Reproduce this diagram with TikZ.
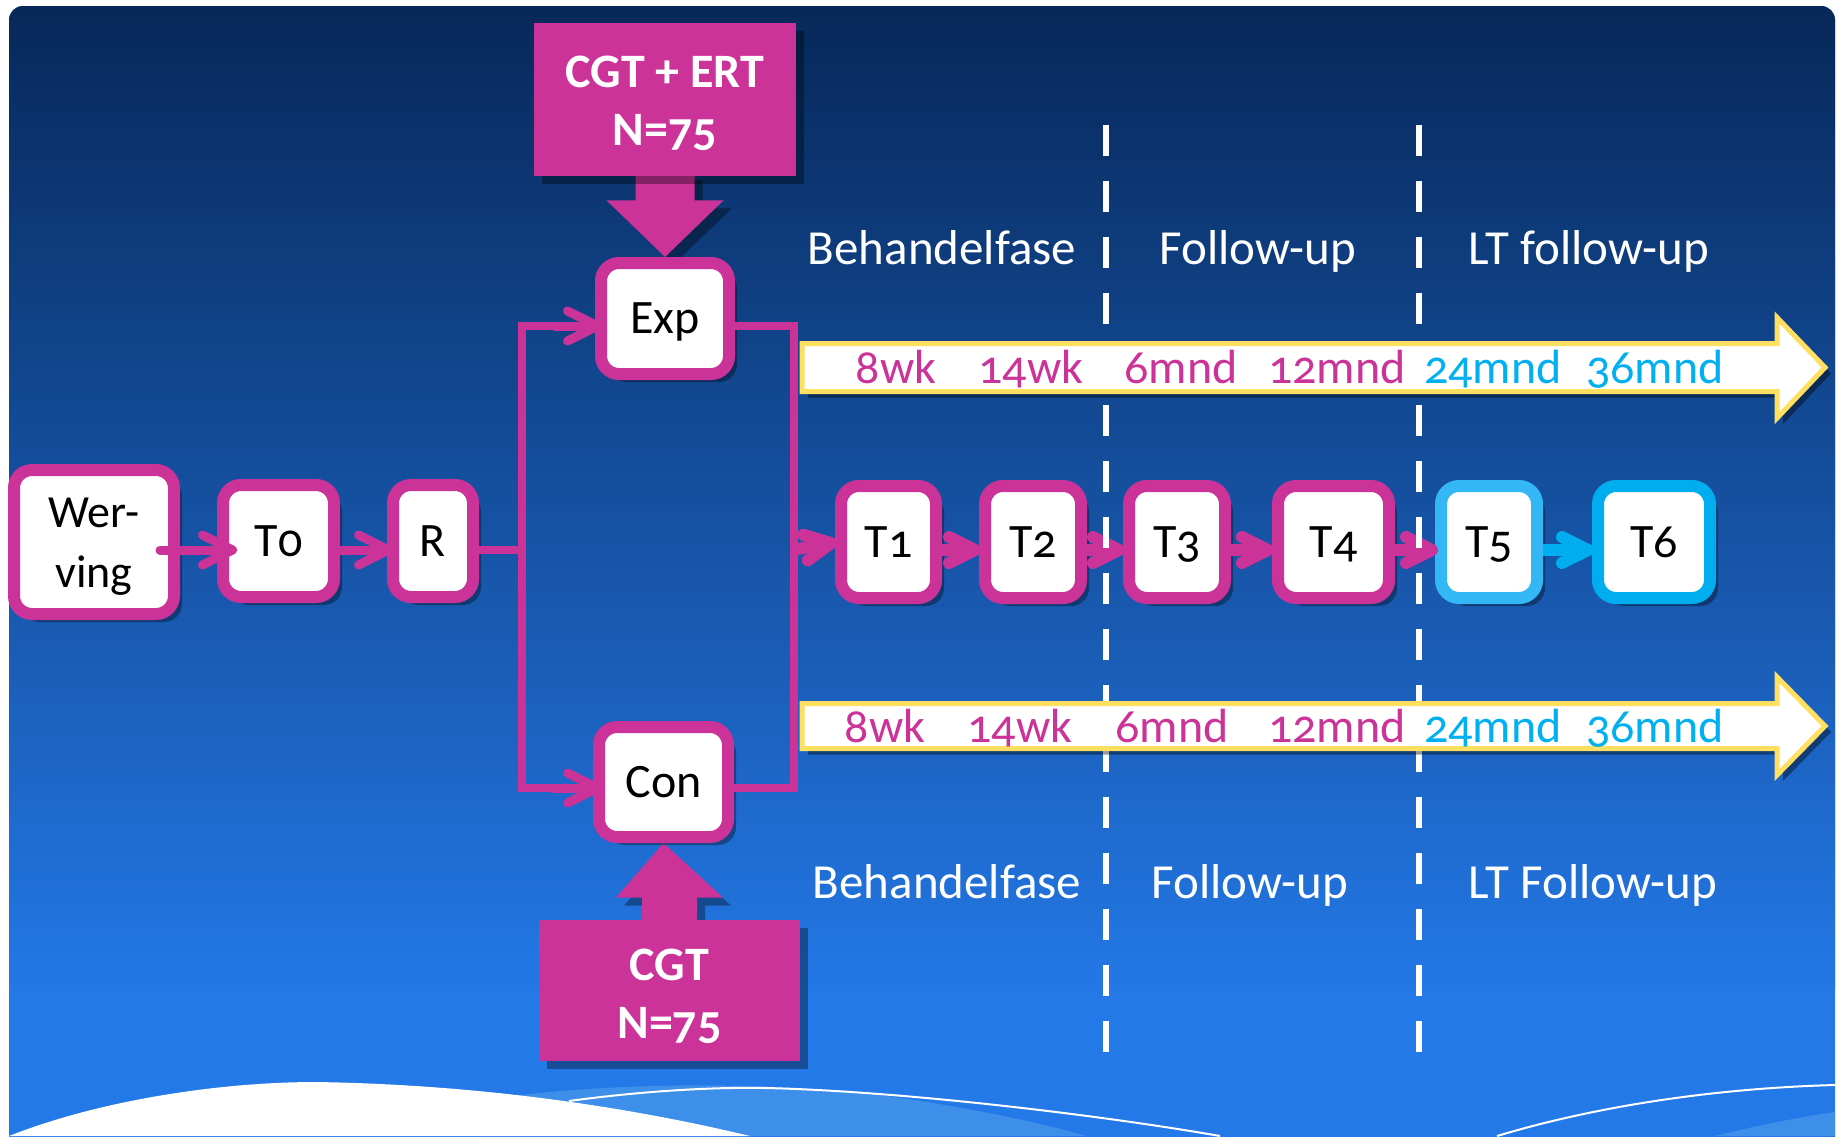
\documentclass[tikz,border=0pt]{standalone}
\usepackage{fontspec}
\setmainfont{Carlito}[Numbers=OldStyle]
\usetikzlibrary{arrows.meta,calc,shadows}
\pgfdeclarelayer{back}
\pgfdeclarelayer{mid}
\pgfsetlayers{back,mid,main}
\definecolor{mag}{HTML}{CC3399}
\definecolor{cyanA}{HTML}{33B8F5}
\definecolor{cyanB}{HTML}{00AEEF}
\definecolor{cyantxt}{HTML}{00B0F0}
\definecolor{yel}{HTML}{FFDF60}
\definecolor{bgtop}{HTML}{072859}
\definecolor{bgmid}{HTML}{184E9D}
\definecolor{bgbot}{HTML}{2479E8}
\definecolor{wave}{HTML}{3D8FE9}
\begin{document}
\begin{tikzpicture}[x=0.5pt,y=-0.5pt,
  shad/.style={drop shadow={shadow xshift=4pt,shadow yshift=-4pt,opacity=0.35,fill=black}},
  box/.style={draw=mag, line width=6pt, fill=white, rounded corners=9pt,
    minimum height=56pt, inner sep=0pt, font=\fontsize{24}{28}\selectfont,
    text=black, text height=15.2pt, text depth=0pt, shad},
  pbox/.style={fill=mag, inner sep=0pt, text=white,
    font=\fontsize{24}{29}\selectfont\bfseries, shad},
  conn/.style={draw=mag, line width=4.5pt, line cap=round,
    -{Straight Barb[length=15pt,width=15pt,round]}},
  tconn/.style={draw=mag, line width=6pt,
    -{Straight Barb[length=13pt,width=13pt,round]}},
  wire/.style={draw=mag, line width=4pt},
  dashline/.style={draw=white, line width=3pt, dash pattern=on 15.5pt off 12.5pt},
  tl/.style={draw=yel, fill=white, line width=2.5pt, line join=miter,
    drop shadow={shadow xshift=3pt,shadow yshift=-3pt,opacity=0.4,fill=black}},
  tlt/.style={anchor=base, inner sep=0pt, font=\fontsize{24}{28}\selectfont},
  lbl/.style={anchor=base, inner sep=0pt, text=white, font=\fontsize{24.5}{28}\selectfont}
]
\useasboundingbox (0,0) rectangle (1839,1136);
% background
\begin{pgfonlayer}{back}
\begin{scope}
  \clip (0,0) rectangle (1839,1136);
  \fill[white] (0,0) rectangle (1839,1136);
  \fill[bgbot, rounded corners=7pt] (9,6) rectangle (1835,1200);
  \shade[top color=bgtop, middle color=bgmid, bottom color=bgbot, rounded corners=7pt]
    (9,6) rectangle (1835,1002);
  \fill[wave] (480,1136) -- (480,1100) .. controls (600,1083) and (750,1080) .. (880,1095)
    .. controls (960,1106) and (1040,1122) .. (1086,1136) -- cycle;
  \fill[wave] (1714,1136) .. controls (1760,1125) and (1800,1117) .. (1835,1112) -- (1835,1136) -- cycle;
  \fill[white] (9,1136) .. controls (100,1100) and (220,1082) .. (316,1082)
    .. controls (450,1084) and (600,1100) .. (750,1136) -- cycle;
  \draw[white, line width=1pt] (569,1101) .. controls (650,1090) and (720,1087) .. (766,1088)
    .. controls (900,1091) and (1100,1115) .. (1220,1136);
  \draw[white, line width=1pt] (1497,1136) .. controls (1600,1105) and (1720,1088) .. (1835,1085);
\end{scope}
\end{pgfonlayer}

% phase labels
\node[lbl] (lb1) at (942,264) {Behandelfase};
\node[lbl] (lf1) at (1258,264) {Follow-up};
\node[lbl] (llt1) at (1589,264) {LT follow-up};
\node[lbl] (lb2) at (947,898) {Behandelfase};
\node[lbl] (lf2) at (1250,898) {Follow-up};
\node[lbl] (llt2) at (1593,898) {LT Follow-up};

% boxes
\node[box, minimum width=80pt, minimum height=72pt, font=\fontsize{23}{30}\selectfont,
  text height=14.5pt, text depth=29pt] (wer) at (94,542)
  {\begin{tabular}[t]{@{}c@{}}Wer-\\ving\end{tabular}};
\node[box, minimum width=55.5pt] (t0) at (278.5,541) {T0};
\node[box, minimum width=40pt] (r) at (433,541) {R};
\node[box, minimum width=64pt, minimum height=55.5pt] (exp) at (665,318.5) {Exp};
\node[box, minimum width=64.5pt, minimum height=55pt] (con) at (663.5,782) {Con};
\node[box, minimum width=47.5pt] (t1) at (888.5,542) {T1};
\node[box, minimum width=48pt] (t2) at (1033,542) {T2};
\node[box, minimum width=48pt] (t3) at (1177,542) {T3};
\node[box, minimum width=55.5pt] (t4) at (1333.5,542) {T4};
\node[box, draw=cyanA, minimum width=48pt] (t5) at (1489,542) {T5};
\node[box, draw=cyanB, minimum width=56pt] (t6) at (1654,542) {T6};

% group boxes
\node[pbox, minimum width=131pt, minimum height=76.5pt, text height=15.5pt, text depth=28pt]
  (ctop) at (665,99.5) {\begin{tabular}[t]{@{}c@{}}CGT + ERT\\N=75\end{tabular}};
\node[pbox, minimum width=130.5pt, minimum height=70.5pt, text height=15.5pt, text depth=26pt]
  (cbot) at (669.5,990.5) {\begin{tabular}[t]{@{}c@{}}CGT\\N=75\end{tabular}};

% block arrows (behind the boxes)
\begin{pgfonlayer}{mid}
\fill[mag, shad] ($(ctop.south)+(-29.5,-4)$) -- ($(ctop.south)+(-29.5,24)$)
  -- ($(ctop.south)+(-58.5,24)$) -- (exp.north) -- ($(ctop.south)+(58.5,24)$)
  -- ($(ctop.south)+(29.5,24)$) -- ($(ctop.south)+(29.5,-4)$) -- cycle;
\fill[mag, shad] ($(cbot.north)+(-27.5,4)$) -- ($(cbot.north)+(-27.5,-22)$)
  -- ($(cbot.north)+(-53.5,-22)$) -- (con.south) -- ($(cbot.north)+(53.5,-22)$)
  -- ($(cbot.north)+(27.5,-22)$) -- ($(cbot.north)+(27.5,4)$) -- cycle;
\end{pgfonlayer}

% connectors
\coordinate (jl) at (522,550);
\coordinate (jr) at (794,550);
\draw[conn] ($(wer.east)+(-20,8)$) -- ($(t0.west)+(20,9)$);
\draw[conn] ($(t0.east)+(0,9)$) -- ($(r.west)+(6,9)$);
\draw[wire] ($(r.east)+(0,9)$) -- (jl);
\draw[wire] (jl) |- ($(exp.west)+(2,7.5)$);
\draw[conn] ($(exp.west)+(-40,7.5)$) -- ($(exp.west)+(7,7.5)$);
\draw[wire] (jl) |- ($(con.west)+(2,6)$);
\draw[conn] ($(con.west)+(-40,6)$) -- ($(con.west)+(9,6)$);
\draw[wire, line join=miter] ($(exp.east)+(0,7.5)$) -| (jr) |- ($(con.east)+(0,6)$);
\draw[tconn] ($(jr)+(-2,0)$) -- ($(t1.west)+(2,0)$);
\draw[tconn] ($(t1.east)+(0,8)$) -- ($(t2.west)+(2,8)$);
\draw[tconn] ($(t2.east)+(0,8)$) -- ($(t3.west)+(2,8)$);
\draw[tconn] ($(t3.east)+(0,8)$) -- ($(t4.west)+(2,8)$);
\draw[tconn] ($(t4.east)+(0,8)$) -- ($(t5.west)+(3,8)$);
\draw[tconn, draw=cyanB] ($(t5.east)+(0,8)$) -- ($(t6.west)+(2,8)$);

% dashed phase separators
\draw[dashline] (1106,125) -- (1106,1052);
\draw[dashline] (1419,125) -- (1419,1052);

% timeline arrows
\draw[tl] (802,343.5) -- (1777,343.5) -- (1777,317.5) -- (1825,367.5) -- (1777,418)
  -- (1777,391.5) -- (802,391.5) -- cycle;
\draw[tl] (802,703.5) -- (1777,703.5) -- (1777,677) -- (1825,726) -- (1777,775)
  -- (1777,748.5) -- (802,748.5) -- cycle;

% timeline texts
\node[tlt, text=mag] (a1) at (896,383) {8wk};
\node[tlt, text=mag] (a2) at (1031,383) {14wk};
\node[tlt, text=mag] (a3) at (1181,383) {6mnd};
\node[tlt, text=mag] (a4) at (1337,383) {12mnd};
\node[tlt, text=cyantxt] (a5) at (1493,383) {24mnd};
\node[tlt, text=cyantxt] (a6) at (1655,383) {36mnd};
\node[tlt, text=mag] (b1) at (885,742) {8wk};
\node[tlt, text=mag] (b2) at (1020,742) {14wk};
\node[tlt, text=mag] (b3) at (1172,742) {6mnd};
\node[tlt, text=mag] (b4) at (1337,742) {12mnd};
\node[tlt, text=cyantxt] (b5) at (1493,742) {24mnd};
\node[tlt, text=cyantxt] (b6) at (1655,742) {36mnd};
\end{tikzpicture}
\end{document}
